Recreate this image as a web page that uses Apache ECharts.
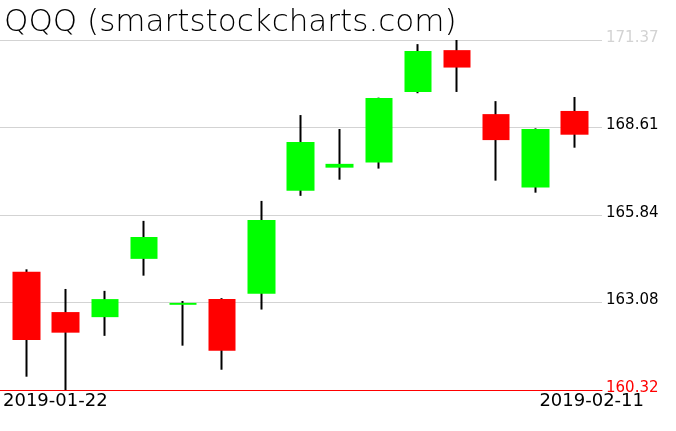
<!DOCTYPE html>
<html>
<head>
<meta charset="utf-8">
<style>html,body{margin:0;padding:0;background:#fff;}#c{width:676px;height:431px;}</style>
<script src="https://cdn.jsdelivr.net/npm/echarts@6/dist/echarts.min.js"></script>
</head>
<body>
<div id="c"></div>
<script>
var titleText = 'QQQ (smartstockcharts.com)';
var dates = ['2019-01-22','2019-01-23','2019-01-24','2019-01-25','2019-01-28','2019-01-29','2019-01-30','2019-01-31','2019-02-01','2019-02-04','2019-02-05','2019-02-06','2019-02-07','2019-02-08','2019-02-11'];
var opens  = [164.05,162.78,162.62,164.46,163.01,163.19,163.36,166.61,167.34,167.50,169.73,171.05,169.03,166.71,169.13];
var closes = [161.90,162.13,163.19,165.15,163.07,161.56,165.69,168.15,167.46,169.54,171.02,170.50,168.21,168.56,168.38];
var lows   = [160.74,160.32,162.03,163.93,161.72,160.96,162.86,166.45,166.96,167.31,169.69,169.73,166.93,166.55,167.97];
var highs  = [164.13,163.51,163.45,165.66,163.13,163.22,166.29,169.00,168.56,169.55,171.24,171.37,169.44,168.58,169.57];
var yTicks = ['160.32','163.08','165.84','168.61','171.37'];

var yMin = parseFloat(yTicks[0]);
var yMax = parseFloat(yTicks[yTicks.length - 1]);
var yInt = (yMax - yMin) / (yTicks.length - 1);

var wickData = dates.map(function (d, i) { return [opens[i], closes[i], lows[i], highs[i]]; });
var bodyData = dates.map(function (d, i) {
  return [opens[i], closes[i], Math.min(opens[i], closes[i]), Math.max(opens[i], closes[i])];
});

var chart = echarts.init(document.getElementById('c'), null, {renderer: 'canvas'});
var TOP = 40, BOTTOM = 41;
chart.setOption({
  animation: false,
  backgroundColor: '#ffffff',
  title: {
    text: titleText, left: 4, top: 7, padding: 0,
    textStyle: {fontFamily: 'DejaVu Sans', fontSize: 31, fontWeight: 200, color: '#000'}
  },
  grid: [
    {left: 0, right: 74, top: TOP, bottom: BOTTOM},
    {left: 7, right: 82, top: TOP, bottom: BOTTOM},
    {left: 3, right: 32, top: TOP, bottom: BOTTOM}
  ],
  xAxis: [
    {gridIndex: 0, type: 'category', data: dates, boundaryGap: false,
     axisLine: {show: true, onZero: false, lineStyle: {color: '#ff0000', width: 1}},
     axisTick: {show: false}, axisLabel: {show: false}, splitLine: {show: false}},
    {gridIndex: 1, type: 'category', data: dates, boundaryGap: true,
     axisLine: {show: false}, axisTick: {show: false}, axisLabel: {show: false}, splitLine: {show: false}},
    {gridIndex: 2, type: 'category', data: dates, boundaryGap: false,
     axisLine: {show: false}, axisTick: {show: false}, splitLine: {show: false},
     axisLabel: {
       show: true, margin: 2, fontFamily: 'DejaVu Sans', fontSize: 18, color: '#000',
       interval: function (idx) { return idx === 0 || idx === dates.length - 1; },
       alignMinLabel: 'left', alignMaxLabel: 'right'
     }}
  ],
  yAxis: [
    {gridIndex: 0, type: 'value', position: 'right', min: yMin, max: yMax, interval: yInt,
     axisLine: {show: false}, axisTick: {show: false},
     splitLine: {show: true, lineStyle: {color: '#d3d3d3', width: 1}},
     axisLabel: {
       show: true, margin: 4, fontFamily: 'DejaVu Sans', fontSize: 15,
       verticalAlign: 'bottom', lineHeight: 4,
       formatter: function (v) {
         var k = Math.round((v - yMin) / yInt);
         return yTicks[k] !== undefined ? yTicks[k] : '';
       },
       color: function (v) {
         var k = Math.round((v - yMin) / yInt);
         if (k === 0) return '#ff0000';
         if (k === yTicks.length - 1) return '#d3d3d3';
         return '#000000';
       }
     }},
    {gridIndex: 1, type: 'value', min: yMin, max: yMax, show: false, splitLine: {show: false}},
    {gridIndex: 2, type: 'value', min: yMin, max: yMax, show: false, splitLine: {show: false}}
  ],
  series: [
    {type: 'candlestick', name: 'wick', xAxisIndex: 1, yAxisIndex: 1, data: wickData,
     barWidth: 1, z: 2,
     itemStyle: {color: '#000', color0: '#000', borderColor: '#000', borderColor0: '#000', borderWidth: 2}},
    {type: 'candlestick', name: 'body', xAxisIndex: 1, yAxisIndex: 1, data: bodyData,
     barWidth: 28, z: 3,
     itemStyle: {color: '#00ff00', color0: '#ff0000', borderColor: '#00ff00', borderColor0: '#ff0000', borderWidth: 0}}
  ]
});
</script>
</body>
</html>
